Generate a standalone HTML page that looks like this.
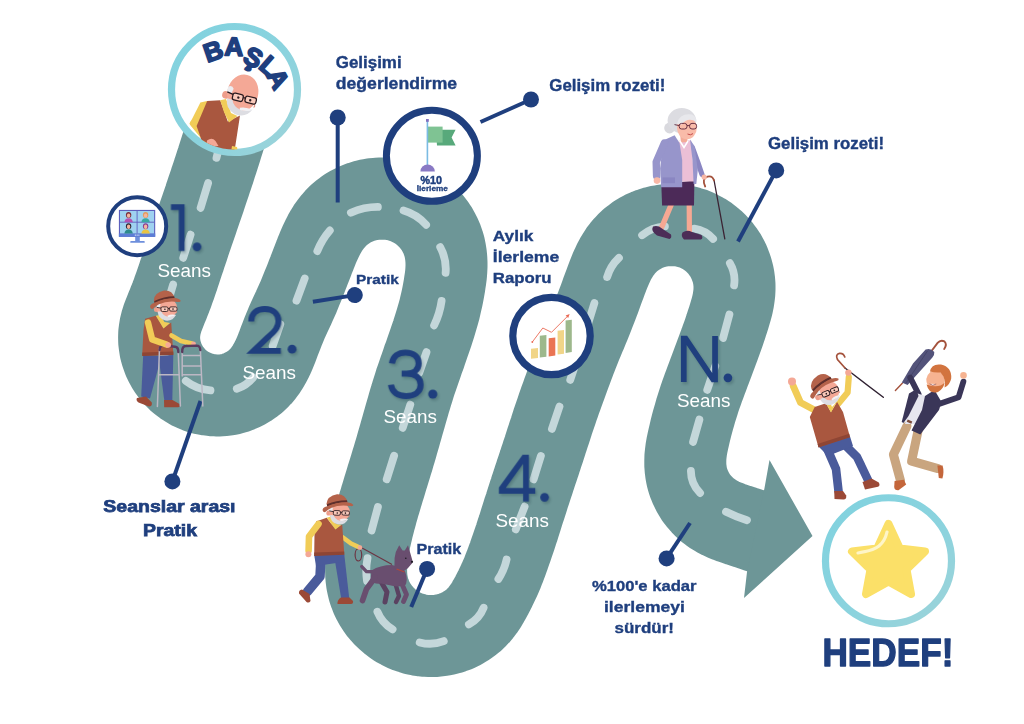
<!DOCTYPE html>
<html><head><meta charset="utf-8"><title>Yol Haritası</title>
<style>html,body{margin:0;padding:0;background:#fff}body{width:1024px;height:724px;overflow:hidden;font-family:"Liberation Sans",sans-serif}svg{display:block}</style>
</head><body>
<svg width="1024" height="724" viewBox="0 0 1024 724" font-family="'Liberation Sans', sans-serif">
<defs>
<linearGradient id="rg" x1="0" y1="0" x2="1" y2="1"><stop offset="0" stop-color="#80d2df"/><stop offset="0.55" stop-color="#8bd3de"/><stop offset="1" stop-color="#9dd3d9"/></linearGradient>
<clipPath id="c1"><circle cx="234.5" cy="89.5" r="60"/></clipPath>
<filter id="blur" x="-20%" y="-20%" width="140%" height="140%"><feGaussianBlur stdDeviation="1.2"/></filter>
</defs>
<rect width="1024" height="724" fill="#fff"/>
<path d="M229.0,122.0 L227.9,125.8 L226.8,129.7 L225.6,133.5 L224.5,137.3 L223.3,141.2 L222.1,145.0 L220.9,148.8 L219.7,152.6 L218.5,156.4 L217.3,160.2 L216.0,164.0 L214.8,167.8 L213.6,171.6 L212.3,175.4 L211.0,179.2 L209.8,183.0 L208.5,186.8 L207.2,190.6 L205.9,194.4 L204.7,198.2 L203.4,202.0 L202.1,205.8 L200.8,209.5 L199.5,213.3 L198.2,217.1 L196.9,220.9 L195.6,224.7 L194.3,228.5 L193.0,232.2 L191.7,236.0 L190.4,239.8 L189.1,243.6 L187.9,247.4 L186.6,251.2 L185.3,255.0 L184.1,258.8 L182.8,262.6 L181.5,266.4 L180.3,270.2 L179.0,274.0 L177.8,277.8 L176.5,281.6 L175.2,285.3 L173.8,289.1 L172.5,292.9 L171.1,296.6 L169.6,300.3 L168.2,304.0 L166.7,307.6 L165.2,311.3 L163.8,314.9 L162.4,318.6 L161.3,322.3 L160.3,326.1 L159.7,329.9 L159.2,333.7 L159.1,337.6 L159.2,341.5 L159.7,345.3 L160.3,349.2 L161.3,353.0 L162.5,356.7 L163.9,360.3 L165.6,363.8 L167.5,367.2 L169.6,370.5 L172.0,373.6 L174.5,376.6 L177.2,379.4 L180.2,382.0 L183.2,384.3 L186.5,386.5 L189.8,388.5 L193.3,390.2 L196.9,391.7 L200.6,393.0 L204.4,394.0 L208.2,394.7 L212.1,395.2 L216.0,395.4 L219.9,395.4 L223.8,395.1 L227.7,394.6 L231.5,393.8 L235.2,392.7 L238.9,391.4 L242.5,389.8 L246.0,388.0 L249.3,386.0 L252.5,383.8 L255.5,381.4 L258.4,378.7 L261.1,375.9 L263.6,372.9 L265.9,369.7 L268.0,366.4 L270.0,363.0 L271.8,359.5 L273.5,355.9 L275.1,352.2 L276.6,348.6 L278.0,344.8 L279.4,341.1 L280.8,337.4 L282.3,333.6 L283.7,329.9 L285.3,326.2 L286.8,322.6 L288.4,318.9 L290.1,315.3 L291.8,311.6 L293.5,308.0 L295.1,304.4 L296.8,300.7 L298.4,297.1 L299.9,293.4 L301.4,289.7 L302.9,286.0 L304.4,282.3 L305.9,278.6 L307.3,274.8 L308.8,271.1 L310.2,267.4 L311.7,263.6 L313.1,259.9 L314.6,256.2 L316.0,252.5 L317.5,248.8 L319.1,245.1 L320.7,241.5 L322.4,237.9 L324.2,234.4 L326.2,230.9 L328.3,227.6 L330.5,224.4 L333.0,221.3 L335.6,218.3 L338.3,215.6 L341.3,213.0 L344.4,210.6 L347.6,208.4 L351.0,206.4 L354.5,204.6 L358.1,203.1 L361.8,201.7 L365.5,200.6 L369.3,199.7 L373.2,199.1 L377.1,198.7 L381.0,198.5 L384.9,198.5 L388.8,198.8 L392.7,199.4 L396.6,200.1 L400.3,201.1 L404.1,202.4 L407.7,203.8 L411.2,205.5 L414.7,207.4 L418.0,209.5 L421.2,211.7 L424.2,214.2 L427.1,216.9 L429.8,219.7 L432.4,222.7 L434.7,225.8 L436.9,229.1 L438.8,232.5 L440.6,236.0 L442.1,239.6 L443.4,243.3 L444.5,247.0 L445.3,250.9 L445.9,254.8 L446.3,258.7 L446.5,262.6 L446.5,266.5 L446.3,270.5 L446.0,274.5 L445.5,278.4 L444.9,282.3 L444.3,286.3 L443.6,290.2 L442.9,294.1 L442.1,298.0 L441.2,301.9 L440.3,305.8 L439.4,309.7 L438.3,313.6 L437.2,317.4 L436.1,321.2 L434.9,325.1 L433.7,328.9 L432.5,332.7 L431.2,336.5 L429.9,340.3 L428.6,344.0 L427.3,347.8 L426.0,351.6 L424.7,355.4 L423.3,359.1 L422.0,362.9 L420.7,366.7 L419.4,370.4 L418.1,374.2 L416.8,378.0 L415.5,381.7 L414.3,385.5 L413.1,389.3 L411.9,393.1 L410.8,396.9 L409.6,400.7 L408.5,404.5 L407.4,408.3 L406.3,412.2 L405.2,416.0 L404.1,419.9 L403.0,423.7 L401.9,427.6 L400.8,431.4 L399.7,435.3 L398.6,439.1 L397.5,442.9 L396.4,446.8 L395.3,450.6 L394.1,454.5 L393.0,458.3 L391.8,462.1 L390.7,465.9 L389.5,469.8 L388.3,473.6 L387.1,477.4 L386.0,481.2 L384.8,485.1 L383.6,488.9 L382.5,492.7 L381.3,496.5 L380.2,500.4 L379.0,504.2 L377.9,508.1 L376.8,511.9 L375.8,515.8 L374.7,519.6 L373.7,523.5 L372.7,527.4 L371.8,531.2 L370.9,535.1 L370.0,539.0 L369.2,542.9 L368.5,546.9 L367.8,550.8 L367.2,554.7 L366.7,558.7 L366.4,562.6 L366.1,566.6 L366.1,570.5 L366.2,574.5 L366.5,578.4 L367.0,582.3 L367.8,586.1 L368.7,589.9 L370.0,593.6 L371.4,597.3 L373.1,600.8 L375.0,604.2 L377.1,607.5 L379.4,610.7 L381.9,613.7 L384.5,616.6 L387.4,619.3 L390.3,621.8 L393.5,624.2 L396.7,626.4 L400.1,628.3 L403.6,630.1 L407.2,631.6 L410.9,632.9 L414.7,634.0 L418.5,634.9 L422.4,635.5 L426.3,635.9 L430.2,636.1 L434.1,636.0 L438.0,635.7 L441.9,635.2 L445.7,634.4 L449.5,633.4 L453.2,632.2 L456.9,630.8 L460.4,629.1 L463.8,627.2 L467.2,625.1 L470.3,622.9 L473.4,620.4 L476.2,617.7 L478.9,614.9 L481.4,611.9 L483.8,608.7 L486.0,605.4 L488.0,602.1 L489.9,598.7 L491.8,595.2 L493.6,591.7 L495.4,588.2 L497.1,584.7 L498.8,581.1 L500.4,577.5 L502.0,573.9 L503.4,570.2 L504.9,566.5 L506.3,562.8 L507.6,559.1 L509.0,555.3 L510.3,551.5 L511.6,547.8 L512.9,544.0 L514.2,540.2 L515.5,536.4 L516.7,532.6 L518.0,528.8 L519.2,525.0 L520.4,521.2 L521.6,517.4 L522.8,513.5 L524.0,509.7 L525.3,505.9 L526.5,502.1 L527.7,498.3 L528.9,494.5 L530.2,490.7 L531.4,486.9 L532.7,483.1 L533.9,479.3 L535.2,475.5 L536.4,471.7 L537.7,467.9 L539.0,464.1 L540.2,460.3 L541.5,456.5 L542.7,452.7 L544.0,448.9 L545.2,445.1 L546.4,441.3 L547.7,437.5 L548.9,433.7 L550.2,429.9 L551.4,426.1 L552.6,422.3 L553.9,418.5 L555.2,414.7 L556.5,410.9 L557.8,407.1 L559.1,403.4 L560.4,399.6 L561.8,395.8 L563.1,392.1 L564.5,388.3 L565.9,384.5 L567.2,380.8 L568.6,377.0 L570.0,373.3 L571.4,369.5 L572.8,365.8 L574.2,362.0 L575.6,358.3 L577.1,354.6 L578.5,350.9 L580.0,347.1 L581.5,343.4 L583.1,339.7 L584.6,336.1 L586.2,332.4 L587.7,328.7 L589.2,325.0 L590.7,321.3 L592.2,317.6 L593.7,313.8 L595.1,310.1 L596.6,306.4 L598.0,302.6 L599.4,298.9 L600.8,295.1 L602.1,291.4 L603.5,287.6 L604.9,283.9 L606.3,280.1 L607.7,276.4 L609.2,272.7 L610.7,269.0 L612.3,265.4 L614.0,261.8 L615.9,258.3 L617.9,255.0 L620.0,251.7 L622.4,248.6 L624.9,245.6 L627.6,242.8 L630.5,240.1 L633.5,237.7 L636.7,235.4 L640.1,233.4 L643.5,231.5 L647.1,229.9 L650.7,228.5 L654.5,227.3 L658.3,226.4 L662.1,225.7 L666.0,225.2 L669.9,225.0 L673.8,225.0 L677.7,225.3 L681.6,225.8 L685.4,226.5 L689.2,227.5 L693.0,228.7 L696.6,230.2 L700.1,231.9 L703.6,233.7 L706.9,235.8 L710.0,238.1 L713.1,240.6 L715.9,243.3 L718.6,246.1 L721.1,249.1 L723.4,252.3 L725.6,255.6 L727.5,259.0 L729.2,262.5 L730.6,266.2 L731.9,269.9 L732.9,273.6 L733.7,277.5 L734.2,281.3 L734.5,285.2 L734.5,289.1 L734.3,293.1 L733.8,297.0 L733.2,300.9 L732.4,304.7 L731.4,308.6 L730.3,312.4 L729.2,316.2 L728.0,320.0 L726.7,323.8 L725.5,327.6 L724.2,331.4 L722.9,335.2 L721.5,338.9 L720.2,342.7 L718.8,346.5 L717.4,350.2 L716.0,354.0 L714.6,357.7 L713.2,361.5 L711.8,365.2 L710.4,368.9 L709.0,372.7 L707.6,376.4 L706.2,380.2 L704.8,383.9 L703.4,387.7 L702.1,391.4 L700.7,395.2 L699.4,399.0 L698.2,402.8 L697.0,406.6 L695.8,410.4 L694.7,414.3 L693.6,418.1 L692.5,422.0 L691.5,425.8 L690.5,429.7 L689.6,433.6 L688.7,437.5 L687.8,441.4 L687.0,445.3 L686.3,449.2 L685.8,453.1 L685.4,457.0 L685.3,461.0 L685.3,464.9 L685.6,468.8 L686.1,472.7 L686.8,476.6 L687.8,480.4 L689.1,484.1 L690.6,487.7 L692.3,491.2 L694.2,494.6 L696.3,497.9 L698.7,501.0 L701.3,504.0 L704.0,506.8 L706.9,509.5 L710.0,511.9 L713.2,514.1 L716.6,516.2 L720.0,518.0 L723.6,519.7 L727.3,521.2 L731.0,522.6 L734.7,523.9 L738.5,525.2 L742.3,526.4 L746.1,527.7 L749.9,528.9 L753.7,530.2 L757.4,531.5 L761.2,532.9 L764.9,534.2 L768.6,535.6 L772.3,536.9 L774.2,537.6" fill="none" stroke="#6d9697" stroke-width="82" stroke-linejoin="round"/>
<polygon points="769.5,460.0 812.5,536.0 744.0,598.0 747.0,572.0 764.5,488.0" fill="#6d9697"/>
<path d="M221.5,137.1 L216.5,157.9 M208.1,183.1 L200.6,207.9 M190.6,234.6 L183.2,257.9 M173.1,284.6 L166.1,307.9 M161.0,337.1 Q159.9,349.4 166.5,359.9 M185.8,380.8 Q196.7,389.3 210.5,390.4 M236.8,388.8 Q246.7,385.6 253.2,377.5 M272.7,345.9 L280.3,324.1 M296.5,300.7 L304.7,278.5 M317.3,251.1 Q321.8,239.8 329.8,230.5 M350.9,212.7 Q363.8,206.9 377.9,206.9 M403.5,210.5 Q416.9,214.3 426.1,224.8 M440.2,247.2 Q446.8,259.2 445.6,272.8 M441.6,300.9 Q439.8,313.7 434.1,325.4 M426.5,352.1 L419.2,372.9 M410.3,404.6 L402.7,427.9 M394.1,455.8 L386.7,479.2 M377.9,507.1 L371.6,530.4 M367.5,558.2 Q365.3,569.5 367.0,580.8 M377.4,611.7 Q382.0,623.1 392.6,629.3 M419.7,642.4 Q432.0,645.7 443.8,641.1 M468.9,624.3 Q479.3,618.6 483.6,607.7 M498.4,579.0 Q504.3,570.0 506.6,559.5 M515.8,529.4 L524.6,506.6 M533.6,479.4 L540.9,455.9 M551.9,428.9 L559.5,406.6 M570.2,379.9 L577.8,357.1 M587.1,326.9 L594.4,303.1 M607.1,277.1 Q610.4,265.9 618.9,257.9 M642.1,235.2 Q652.1,227.0 664.9,226.3 M694.4,228.6 Q705.7,230.3 713.1,238.9 M729.9,263.2 Q735.9,273.5 734.1,285.3 M729.4,314.6 L723.1,337.9 M715.3,366.1 L707.2,389.9 M699.4,419.6 L693.1,441.9 M690.9,471.0 Q690.9,483.9 700.1,493.0 M726.0,511.8 Q736.1,516.9 747.0,520.2" fill="none" stroke="#c4d7da" stroke-width="7.8" stroke-linecap="round"/>
<circle cx="234.5" cy="89.5" r="63" fill="#fff" stroke="url(#rg)" stroke-width="7.2"/>
<g clip-path="url(#c1)"><polygon points="200.4,102.4 207.0,100.9 210.0,112.0 197.0,127.0 189.5,124.0" fill="#f1cc57"/><polyline points="193.6,123.5 208.5,141.5" fill="none" stroke="#f1cc57" stroke-width="7.4" stroke-linecap="round" stroke-linejoin="round"/><polygon points="207.2,100.9 220.2,100.2 227.8,121.4 240.0,115.4 235.0,148.0 232.0,156.0 205.0,150.0 196.6,126.0" fill="#a9573f"/><polygon points="220.2,100.2 226.0,99.0 231.0,113.0 237.5,116.0 229.0,122.5 224.0,112.0" fill="#f1cc57"/><polygon points="232.0,146.0 237.0,147.0 238.0,152.0 231.0,152.0" fill="#f1cc57"/><path d="M207,140.5 q5,-3.5 8.5,0.5 l3,5 l-12,1 z" fill="#f4a896"/><g transform="translate(241.6,97.6) rotate(14.0) scale(1.500)"><circle cx="-10.6" cy="0.8" r="2.5" fill="#ee9d8b"/><ellipse cx="0" cy="-3.2" rx="10.3" ry="12.4" fill="#f4a896"/><path d="M-10.4,-5 Q-8,-7 -6.6,-4.4 L-7.2,-0.6 L-10.3,-1.2 Z" fill="#ececf0"/><path d="M-9.2,2.8 Q-9,10 -1.5,11.8 Q6,12.6 9,6 Q5.2,8.6 1,8 Q-4,7 -5.6,2.8 Z" fill="#dddde2"/><path d="M0.4,6.9 Q4.6,5 9.2,6.3 Q5.4,8.6 1,8.2 Z" fill="#f1f1f4"/><path d="M8.6,1.8 Q10.8,3.4 9.2,4.4" fill="none" stroke="#e08f7c" stroke-width="0.7"/><g fill="#f9c9ba" stroke="#2b1b20" stroke-width="0.85"><rect x="-6" y="-1.9" width="7" height="4.6" rx="1.4"/><rect x="2.6" y="-1.9" width="7.4" height="4.2" rx="1.3"/></g><path d="M1,-0.3 L2.6,-0.3 M-6,-0.7 L-10.2,-1.4" fill="none" stroke="#2b1b20" stroke-width="0.85"/><circle cx="-2.1" cy="0.5" r="0.8" fill="#2b1b20"/><circle cx="6.0" cy="0.3" r="0.8" fill="#2b1b20"/></g></g>
<g font-size="26" font-weight="bold" fill="#1f3f7e" text-anchor="middle" stroke="#1f3f7e" stroke-width="1.8" stroke-linejoin="round"><text transform="translate(216.2,59.6) rotate(-19.0)" x="0" y="0">B</text><text transform="translate(233.6,55.6) rotate(2.0)" x="0" y="0">A</text><text transform="translate(249.2,65.4) rotate(27.0)" x="0" y="0">Ş</text><text transform="translate(263.4,72.6) rotate(41.0)" x="0" y="0">L</text><text transform="translate(270.2,83.0) rotate(62.0)" x="0" y="0">A</text></g>
<g opacity="0.22" filter="url(#blur)"><g transform="translate(172.6,206.7) scale(0.4650)" fill="none" stroke="#16343c" stroke-width="12.4" stroke-linejoin="miter"><path d="M0,5.5 H23 V100"/><circle cx="56" cy="91" r="9.4" fill="#16343c" stroke="none"/></g><g transform="translate(250.4,308.6) scale(0.4700)" fill="none" stroke="#16343c" stroke-width="12.4" stroke-linejoin="miter"><path d="M5,32 C5,14 18,5.5 34,5.5 C51,5.5 63,15 63,31 C63,45 55,53 40,66 L10,94.5 H68"/><circle cx="92" cy="91" r="9.4" fill="#16343c" stroke="none"/></g><g transform="translate(390.6,352.0) scale(0.4860)" fill="none" stroke="#16343c" stroke-width="12.4" stroke-linejoin="miter"><path d="M6,28 C8,13 19,5.5 34,5.5 C50,5.5 61,14 61,28 C61,42 50,49 36,49 H26 M36,49 C53,49 65,57 65,72 C65,87 52,95 35,95 C18,95 6,87 4,72"/><circle cx="90" cy="91" r="9.4" fill="#16343c" stroke="none"/></g><g transform="translate(500.6,457.2) scale(0.4650)" fill="none" stroke="#16343c" stroke-width="12.4" stroke-linejoin="miter"><path d="M58,100 V5.5 H54 L6,72 V77 H78"/><circle cx="98" cy="91" r="9.4" fill="#16343c" stroke="none"/></g><g transform="translate(682.6,338.2) scale(0.4600)" fill="none" stroke="#16343c" stroke-width="12.4" stroke-linejoin="miter"><path d="M6,100 V5.5 H10 L70,94.5 H74 V0"/><circle cx="102" cy="91" r="9.4" fill="#16343c" stroke="none"/></g></g><g transform="translate(171.0,204.5) scale(0.4650)" fill="none" stroke="#1f3f7e" stroke-width="12.4" stroke-linejoin="miter"><path d="M0,5.5 H23 V100"/><circle cx="56" cy="91" r="9.4" fill="#1f3f7e" stroke="none"/></g><g transform="translate(248.8,306.4) scale(0.4700)" fill="none" stroke="#1f3f7e" stroke-width="12.4" stroke-linejoin="miter"><path d="M5,32 C5,14 18,5.5 34,5.5 C51,5.5 63,15 63,31 C63,45 55,53 40,66 L10,94.5 H68"/><circle cx="92" cy="91" r="9.4" fill="#1f3f7e" stroke="none"/></g><g transform="translate(389.0,349.8) scale(0.4860)" fill="none" stroke="#1f3f7e" stroke-width="12.4" stroke-linejoin="miter"><path d="M6,28 C8,13 19,5.5 34,5.5 C50,5.5 61,14 61,28 C61,42 50,49 36,49 H26 M36,49 C53,49 65,57 65,72 C65,87 52,95 35,95 C18,95 6,87 4,72"/><circle cx="90" cy="91" r="9.4" fill="#1f3f7e" stroke="none"/></g><g transform="translate(499.0,455.0) scale(0.4650)" fill="none" stroke="#1f3f7e" stroke-width="12.4" stroke-linejoin="miter"><path d="M58,100 V5.5 H54 L6,72 V77 H78"/><circle cx="98" cy="91" r="9.4" fill="#1f3f7e" stroke="none"/></g><g transform="translate(681.0,336.0) scale(0.4600)" fill="none" stroke="#1f3f7e" stroke-width="12.4" stroke-linejoin="miter"><path d="M6,100 V5.5 H10 L70,94.5 H74 V0"/><circle cx="102" cy="91" r="9.4" fill="#1f3f7e" stroke="none"/></g>
<text x="157.5" y="277.0" font-size="18.2" font-weight="normal" fill="#ffffff" text-anchor="start" textLength="53.5" lengthAdjust="spacingAndGlyphs">Seans</text><text x="242.5" y="378.8" font-size="18.2" font-weight="normal" fill="#ffffff" text-anchor="start" textLength="53.5" lengthAdjust="spacingAndGlyphs">Seans</text><text x="383.5" y="422.5" font-size="18.2" font-weight="normal" fill="#ffffff" text-anchor="start" textLength="53.5" lengthAdjust="spacingAndGlyphs">Seans</text><text x="495.5" y="527.0" font-size="18.2" font-weight="normal" fill="#ffffff" text-anchor="start" textLength="53.5" lengthAdjust="spacingAndGlyphs">Seans</text><text x="677.0" y="407.0" font-size="18.2" font-weight="normal" fill="#ffffff" text-anchor="start" textLength="53.5" lengthAdjust="spacingAndGlyphs">Seans</text>
<g stroke="#1f3f7e" stroke-width="4" fill="none"><line x1="337.7" y1="117.5" x2="337.7" y2="202.5"/><line x1="531.0" y1="99.5" x2="480.5" y2="122.0"/><line x1="776.2" y1="170.4" x2="738.0" y2="241.5"/><line x1="354.8" y1="295.1" x2="312.9" y2="301.8"/><line x1="172.4" y1="481.4" x2="200.5" y2="401.0"/><line x1="427.1" y1="568.9" x2="411.2" y2="607.0"/><line x1="666.6" y1="558.4" x2="690.0" y2="523.0"/></g><g fill="#1f3f7e"><circle cx="337.7" cy="117.5" r="8"/><circle cx="531.0" cy="99.5" r="8"/><circle cx="776.2" cy="170.4" r="8"/><circle cx="354.8" cy="295.1" r="8"/><circle cx="172.4" cy="481.4" r="8"/><circle cx="427.1" cy="568.9" r="8"/><circle cx="666.6" cy="558.4" r="8"/></g>
<circle cx="137.2" cy="226.2" r="29.00" fill="#fff" stroke="#1f3f7e" stroke-width="4.0"/>
<rect x="118.9" y="209.9" width="36.3" height="26.9" fill="#5d5fbd"/><rect x="118.9" y="233.4" width="36.3" height="3.4" fill="#5b7dd6"/><rect x="120" y="211" width="34.1" height="22.4" fill="#9fd2f0"/><path d="M137.1,211 V233.4 M120,222.2 H154.1" stroke="#5d5fbd" stroke-width="0.9"/><rect x="135.2" y="236.8" width="4.6" height="4.8" fill="#6e8fdc"/><rect x="130.2" y="241" width="14.6" height="1.8" rx="0.9" fill="#6e8fdc"/><g fill="#fff"><circle cx="135.3" cy="235.1" r="0.6" fill="#fff"/><circle cx="137.1" cy="235.1" r="0.6" fill="#fff"/><circle cx="138.9" cy="235.1" r="0.6" fill="#fff"/></g><ellipse cx="128.6" cy="215.0" rx="2.7" ry="3.0" fill="#7b2d3c"/><ellipse cx="128.6" cy="215.6" rx="1.7" ry="2.2" fill="#f3b59f"/><path d="M124.4,222.2 q0.4,-3.6 3.4,-4 l1.6,0 q3,0.4 3.4,4 z" fill="#b452b3"/><ellipse cx="145.6" cy="215.0" rx="2.7" ry="3.0" fill="#e79a5b"/><ellipse cx="145.6" cy="215.6" rx="1.7" ry="2.2" fill="#f3b59f"/><path d="M141.4,222.2 q0.4,-3.6 3.4,-4 l1.6,0 q3,0.4 3.4,4 z" fill="#3aa9a2"/><ellipse cx="128.6" cy="226.2" rx="2.7" ry="3.0" fill="#2b2433"/><ellipse cx="128.6" cy="226.8" rx="1.7" ry="2.2" fill="#f3b59f"/><path d="M124.4,233.4 q0.4,-3.6 3.4,-4 l1.6,0 q3,0.4 3.4,4 z" fill="#2d8a8c"/><ellipse cx="145.6" cy="226.2" rx="2.7" ry="3.0" fill="#8b3b8e"/><ellipse cx="145.6" cy="226.8" rx="1.7" ry="2.2" fill="#f3b59f"/><path d="M141.4,233.4 q0.4,-3.6 3.4,-4 l1.6,0 q3,0.4 3.4,4 z" fill="#e9c343"/>
<circle cx="431.9" cy="155.8" r="45.50" fill="#fff" stroke="#1f3f7e" stroke-width="7.0"/>
<path d="M435.8,129.8 L455.6,129.8 L451.6,137.6 L455.6,145.4 L437,145.4 Z" fill="#58a97b"/><rect x="428" y="126.6" width="14.6" height="16" fill="#7fc393"/><rect x="426.6" y="121" width="1.6" height="44.5" fill="#7bbbe3"/><rect x="426" y="119" width="2.8" height="2.8" fill="#8271c0"/><path d="M420.4,171.4 A7.2,7 0 0 1 434.8,171.4 Z" fill="#8979c4"/><text x="431.2" y="183.6" font-size="11.8" font-weight="bold" fill="#1f3f7e" text-anchor="middle" textLength="21.5" lengthAdjust="spacingAndGlyphs" stroke="#1f3f7e" stroke-width="0.5">%10</text><text x="432.3" y="191.2" font-size="7.6" font-weight="bold" fill="#1f3f7e" text-anchor="middle" textLength="31" lengthAdjust="spacingAndGlyphs" stroke="#1f3f7e" stroke-width="0.3">İlerleme</text>
<circle cx="551.5" cy="336.0" r="38.70" fill="#fff" stroke="#1f3f7e" stroke-width="7.2"/>
<polygon points="531.0,348.8 538.0,348.0 538.0,357.9 531.0,358.8" fill="#f1d588"/><polygon points="539.8,335.8 546.4,335.0 546.4,356.7 539.8,357.6" fill="#9db88c"/><polygon points="548.7,338.2 555.3,337.4 555.3,355.5 548.7,356.4" fill="#ea7453"/><polygon points="557.6,330.8 564.0,330.0 564.0,353.7 557.6,354.6" fill="#f1d588"/><polygon points="565.6,320.6 571.8,319.8 571.8,352.0 565.6,352.9" fill="#9db88c"/><polyline points="532.3,342 542.8,328 551.5,332.3 568,315.8" fill="none" stroke="#ea6a55" stroke-width="0.9"/><polygon points="569.6,314 565.6,315.4 568.2,318" fill="#ea6a55"/><circle cx="532.3" cy="342.0" r="0.9" fill="#ea6a55"/>
<polygon points="143.2,355.0 161.5,356.0 150.0,398.5 141.2,396.5" fill="#4a5b9b"/><polygon points="158.5,356.0 173.3,355.0 172.3,400.5 164.3,400.5" fill="#4a5b9b"/><path d="M137,398 L146,396.5 L151.8,402.5 Q152.5,406.5 149,406.5 L138.5,402.5 Q135.5,400 137,398 Z" fill="#9b4936"/><path d="M164,400 L172.5,400 L179.5,404 Q180.5,407.2 178,407.2 L164.2,407.2 Z" fill="#9b4936"/><polygon points="145.1,318.7 155.8,315.8 163.5,328.3 171.2,322.5 173.4,354.6 142.2,355.6 143.5,330.0" fill="#a9573f"/><polygon points="142.3,352.6 173.3,351.6 173.4,355.0 142.2,356.0" fill="#8e4534"/><polygon points="155.8,315.8 160.0,315.0 164.5,322.0 170.0,323.0 163.5,328.6" fill="#f1cc57"/><polyline points="171.5,335.5 181.0,341.0 192.0,343.6" fill="none" stroke="#f1cc57" stroke-width="4.6" stroke-linecap="round" stroke-linejoin="round"/><circle cx="193.5" cy="343.8" r="2.4" fill="#f4a896"/><g fill="none" stroke="#bcb7c4" stroke-width="1.5" stroke-linecap="round"><path d="M159.5,348 L157.4,406.5 M178.2,351 L180.4,406 M182.2,351 V376 M200.3,348 L202.8,406 M159.3,374.7 H179 M182.2,355.4 H200.4 M182.2,366 H200.9 M182.2,374.7 H201.3"/></g><g fill="none" stroke="#5b3a5e" stroke-width="2.4" stroke-linecap="round"><path d="M159.6,350 Q159.8,345 164,345.5 L175,346.8 Q178.4,347.2 178.3,352"/><path d="M182.2,352 Q182,346 186,346 L196.5,345.6 Q200.2,345.6 200.3,350"/></g><polyline points="148.0,322.5 152.2,339.5 166.5,344.6" fill="none" stroke="#f1cc57" stroke-width="6.4" stroke-linecap="round" stroke-linejoin="round"/><circle cx="168.2" cy="345.0" r="2.8" fill="#f4a896"/><g transform="translate(167.0,308.8) rotate(0.0) scale(1.000)"><circle cx="-10.6" cy="0.8" r="2.5" fill="#ee9d8b"/><ellipse cx="0" cy="-0.6" rx="10.4" ry="10" fill="#f4a896"/><path d="M-10.4,-5 Q-8,-7 -6.6,-4.4 L-7.2,-0.6 L-10.3,-1.2 Z" fill="#ececf0"/><path d="M-9.2,2.8 Q-9,10 -1.5,11.8 Q6,12.6 9,6 Q5.2,8.6 1,8 Q-4,7 -5.6,2.8 Z" fill="#dddde2"/><path d="M0.4,6.9 Q4.6,5 9.2,6.3 Q5.4,8.6 1,8.2 Z" fill="#f1f1f4"/><path d="M8.6,1.8 Q10.8,3.4 9.2,4.4" fill="none" stroke="#e08f7c" stroke-width="0.7"/><g fill="#f9c9ba" stroke="#2b1b20" stroke-width="0.85"><rect x="-6" y="-1.9" width="7" height="4.6" rx="1.4"/><rect x="2.6" y="-1.9" width="7.4" height="4.2" rx="1.3"/></g><path d="M1,-0.3 L2.6,-0.3 M-6,-0.7 L-10.2,-1.4" fill="none" stroke="#2b1b20" stroke-width="0.85"/><circle cx="-2.1" cy="0.5" r="0.8" fill="#2b1b20"/><circle cx="6.0" cy="0.3" r="0.8" fill="#2b1b20"/><path d="M-13.2,-8.4 Q-12.8,-16 -3,-18.2 Q5.4,-18.8 7.6,-10.8 L6.8,-8.6 Q-3,-9.4 -12,-5.2 Z" fill="#b4624a"/><path d="M-12.8,-7.8 Q-3,-12.4 7.2,-12.6 L7.6,-10.6 Q-3,-10.4 -12.4,-5.6 Z" fill="#5e2f2c"/><path d="M-16.8,-1.6 Q-17.6,-4.2 -12.4,-6 Q-3,-10.4 7.4,-10.7 Q12.6,-10.2 13.7,-8 Q13.4,-6.4 11,-6.9 Q0,-8.5 -8,-4.5 Q-12.4,-2 -14.4,0.1 Q-16.4,0.3 -16.8,-1.6 Z" fill="#b4624a"/></g>
<polyline points="380.0,580.0 387.0,592.0 385.0,602.0" fill="none" stroke="#5a4261" stroke-width="5.0" stroke-linecap="round" stroke-linejoin="round"/><polyline points="395.5,584.0 399.0,596.0 396.0,602.0" fill="none" stroke="#5a4261" stroke-width="4.4" stroke-linecap="round" stroke-linejoin="round"/><polyline points="361.8,566.6 366.5,571.6 375.0,571.8" fill="none" stroke="#694e6f" stroke-width="3.4" stroke-linecap="round" stroke-linejoin="round"/><path d="M371.5,570.5 Q380,565 392,565 L403,568 Q408.5,576 406,584.5 Q399,588 391,585.5 L381,583.5 Q373.5,584.5 370.5,580 Z" fill="#694e6f"/><polyline points="375.0,577.5 366.5,589.0 362.5,600.5" fill="none" stroke="#694e6f" stroke-width="5.6" stroke-linecap="round" stroke-linejoin="round"/><polyline points="401.5,583.0 406.5,594.5 403.5,601.5" fill="none" stroke="#694e6f" stroke-width="4.8" stroke-linecap="round" stroke-linejoin="round"/><path d="M394.6,558 L395.8,552 L399.2,545.2 L402.6,550.6 L404.8,550.4 L408,545.2 L410.2,552.8 L412.4,560.6 Q413,563.4 411,564.4 L407.6,568.6 L402,572 L394.4,568.5 Z" fill="#694e6f"/><circle cx="405.8" cy="558.3" r="0.8" fill="#1d1a22"/><circle cx="412.0" cy="561.8" r="1.1" fill="#1d1a22"/><path d="M396.5,569 L404.5,572" stroke="#b0483c" stroke-width="1.3"/><ellipse cx="358.4" cy="554.8" rx="3.3" ry="6.2" fill="none" stroke="#6d3443" stroke-width="1.2"/><path d="M361.2,547.6 L392,564.4" stroke="#6d3443" stroke-width="1.1"/><polyline points="321.0,558.0 320.0,576.5 307.5,591.5" fill="none" stroke="#4a5b9b" stroke-width="9.5" stroke-linecap="round" stroke-linejoin="round" stroke-linecap="butt"/><polygon points="334.0,555.0 344.3,554.5 349.2,598.0 341.2,598.5" fill="#4a5b9b"/><polygon points="314.2,555.0 344.2,554.4 343.0,562.0 316.0,566.0" fill="#4a5b9b"/><path d="M302,589.5 L309.5,594 L310.5,601 Q309,603.5 306.5,602 L299,593.5 Q298.5,590 302,589.5 Z" fill="#9b4936"/><path d="M341,597.5 L349.5,597.5 L353,601 Q353.5,604 351,604 L337.5,604 Q337,600 341,597.5 Z" fill="#9b4936"/><polyline points="343.0,537.5 351.0,543.5 358.5,547.0" fill="none" stroke="#f1cc57" stroke-width="4.6" stroke-linecap="round" stroke-linejoin="round"/><circle cx="360.0" cy="547.6" r="2.3" fill="#f4a896"/><polygon points="316.1,521.6 326.7,517.7 335.4,529.3 342.2,524.5 344.3,554.3 314.2,555.6 314.5,534.0" fill="#a9573f"/><polygon points="314.2,552.6 344.2,551.4 344.3,554.8 314.2,556.0" fill="#8e4534"/><polygon points="326.7,517.7 331.0,516.5 336.0,524.0 341.5,524.8 335.4,529.6" fill="#f1cc57"/><polyline points="318.5,524.0 309.0,536.5 308.6,550.5" fill="none" stroke="#f1cc57" stroke-width="6.6" stroke-linecap="round" stroke-linejoin="round"/><circle cx="308.4" cy="554.3" r="3.0" fill="#f4a896"/><g transform="translate(339.4,512.6) rotate(2.0) scale(1.000)"><circle cx="-10.6" cy="0.8" r="2.5" fill="#ee9d8b"/><ellipse cx="0" cy="-0.6" rx="10.4" ry="10" fill="#f4a896"/><path d="M-10.4,-5 Q-8,-7 -6.6,-4.4 L-7.2,-0.6 L-10.3,-1.2 Z" fill="#ececf0"/><path d="M-9.2,2.8 Q-9,10 -1.5,11.8 Q6,12.6 9,6 Q5.2,8.6 1,8 Q-4,7 -5.6,2.8 Z" fill="#dddde2"/><path d="M0.4,6.9 Q4.6,5 9.2,6.3 Q5.4,8.6 1,8.2 Z" fill="#f1f1f4"/><path d="M8.6,1.8 Q10.8,3.4 9.2,4.4" fill="none" stroke="#e08f7c" stroke-width="0.7"/><g fill="#f9c9ba" stroke="#2b1b20" stroke-width="0.85"><rect x="-6" y="-1.9" width="7" height="4.6" rx="1.4"/><rect x="2.6" y="-1.9" width="7.4" height="4.2" rx="1.3"/></g><path d="M1,-0.3 L2.6,-0.3 M-6,-0.7 L-10.2,-1.4" fill="none" stroke="#2b1b20" stroke-width="0.85"/><circle cx="-2.1" cy="0.5" r="0.8" fill="#2b1b20"/><circle cx="6.0" cy="0.3" r="0.8" fill="#2b1b20"/><path d="M-13.2,-8.4 Q-12.8,-16 -3,-18.2 Q5.4,-18.8 7.6,-10.8 L6.8,-8.6 Q-3,-9.4 -12,-5.2 Z" fill="#b4624a"/><path d="M-12.8,-7.8 Q-3,-12.4 7.2,-12.6 L7.6,-10.6 Q-3,-10.4 -12.4,-5.6 Z" fill="#5e2f2c"/><path d="M-16.8,-1.6 Q-17.6,-4.2 -12.4,-6 Q-3,-10.4 7.4,-10.7 Q12.6,-10.2 13.7,-8 Q13.4,-6.4 11,-6.9 Q0,-8.5 -8,-4.5 Q-12.4,-2 -14.4,0.1 Q-16.4,0.3 -16.8,-1.6 Z" fill="#b4624a"/></g>
<path d="M714,180 L724.8,238.9" stroke="#3b2333" stroke-width="1.3" stroke-linecap="round"/><path d="M705.2,186.5 Q701.5,178.5 707.5,176.6 Q712.5,175.4 714,180.4" fill="none" stroke="#a4523c" stroke-width="1.8" stroke-linecap="round"/><polyline points="671.5,204.0 661.6,227.5" fill="none" stroke="#f6a893" stroke-width="5.4" stroke-linecap="round" stroke-linejoin="round" stroke-linecap="butt"/><polyline points="689.2,204.0 689.4,231.5" fill="none" stroke="#f6a893" stroke-width="5.2" stroke-linecap="round" stroke-linejoin="round" stroke-linecap="butt"/><path d="M653,226.5 Q658,225 662,228.5 L671,234.5 Q672,238 669.5,239 L657,235.5 Q650.5,231 653,226.5 Z" fill="#4c2d57"/><path d="M682.5,232.5 Q687,229.5 692,232 L701.5,235 Q703.5,238.5 701,239.4 L684,239.4 Q680.5,236 682.5,232.5 Z" fill="#4c2d57"/><polygon points="661.3,184.0 694.4,180.4 694.0,205.6 662.1,205.6" fill="#4c2a58"/><polyline points="692.5,148.0 698.0,163.0 702.0,174.5" fill="none" stroke="#8a86c2" stroke-width="5.2" stroke-linecap="round" stroke-linejoin="round"/><circle cx="704.2" cy="177.0" r="2.6" fill="#f8b8a6"/><polygon points="678.7,140.4 691.2,140.4 694.3,181.6 681.8,181.6" fill="#ebbfd6"/><polygon points="690.0,139.5 694.5,146.0 697.8,170.0 696.3,184.0 693.6,184.0 692.5,160.0" fill="#9795cb"/><polygon points="663.2,140.4 674.6,135.2 679.5,143.0 682.2,160.0 682.2,187.3 661.1,187.3 660.1,168.4" fill="#9795cb"/><rect x="662.5" y="177.4" width="12.5" height="5.8" fill="#8a86c2"/><polyline points="664.4,143.0 656.2,162.0 656.6,176.0" fill="none" stroke="#9795cb" stroke-width="7.4" stroke-linecap="round" stroke-linejoin="round"/><circle cx="657.0" cy="180.6" r="3.3" fill="#f8b8a6"/><polygon points="680.0,134.0 688.0,136.0 687.0,142.0 681.0,142.5" fill="#f3ab98"/><path d="M679.5,140.5 L684,147.5 L688,141" fill="none" stroke="#fff" stroke-width="1.5"/><circle cx="669.6" cy="128.0" r="5.4" fill="#d9d9de"/><ellipse cx="681.8" cy="120.6" rx="14.2" ry="12.6" fill="#dcdce1"/><ellipse cx="686.9" cy="128.0" rx="9.9" ry="11.2" fill="#f9bba9"/><path d="M677,124 Q679,113 692,114.5 Q697,117 696.5,122 Q688,116.5 681.5,124.5 Z" fill="#e8e8ec"/><g fill="none" stroke="#5a2338" stroke-width="0.9"><rect x="679.2" y="123.4" width="7.8" height="5.6" rx="2.4"/><rect x="689.6" y="123.4" width="7" height="5.6" rx="2.4"/><path d="M687,125.6 H689.6 M679.2,125.6 L674.5,124.6"/></g><path d="M687.5,134 Q690.5,135.8 693,133.6" fill="none" stroke="#c44b4b" stroke-width="1"/>
<path d="M845,368 L883.3,397.3" stroke="#2e2030" stroke-width="1.4" stroke-linecap="round"/><path d="M845,368 L837.5,359.5 Q835,354.5 839.5,353.4 Q843.5,353 844.8,357" fill="none" stroke="#a4523c" stroke-width="1.7" stroke-linecap="round"/><polyline points="826.0,446.0 836.0,469.0 838.5,491.0" fill="none" stroke="#4a5b9b" stroke-width="8.6" stroke-linecap="round" stroke-linejoin="round" stroke-linecap="butt"/><polyline points="842.0,442.0 857.0,457.0 868.0,480.0" fill="none" stroke="#4a5b9b" stroke-width="8.6" stroke-linecap="round" stroke-linejoin="round" stroke-linecap="butt"/><polygon points="818.5,446.5 850.0,436.5 853.0,446.0 828.0,456.0" fill="#4a5b9b"/><path d="M834.2,491 L843,491 L846.2,495.5 Q846.8,499.4 843.5,499.4 L834.5,499 Z" fill="#9b4936"/><path d="M862.5,482 L871.5,478.6 L878.8,482.5 Q880.5,485.5 878,486.8 L865,489.5 Z" fill="#9b4936"/><polyline points="814.5,410.0 800.5,402.5 793.2,386.0" fill="none" stroke="#f1cc57" stroke-width="6.8" stroke-linecap="round" stroke-linejoin="round"/><circle cx="792.0" cy="381.4" r="4.0" fill="#f4a896"/><polyline points="838.5,403.5 847.6,392.5 848.8,377.0" fill="none" stroke="#f1cc57" stroke-width="6.2" stroke-linecap="round" stroke-linejoin="round"/><circle cx="848.4" cy="372.6" r="3.2" fill="#f4a896"/><polygon points="814.7,407.0 825.9,403.3 830.9,412.0 837.1,402.1 843.0,412.0 850.0,436.9 818.5,447.3 809.8,417.0" fill="#a9573f"/><polygon points="817.6,444.0 849.2,433.8 850.0,437.2 818.5,447.6" fill="#8e4534"/><polygon points="825.9,403.3 829.5,401.5 832.0,407.0 836.5,402.3 831.0,412.4" fill="#f1cc57"/><g transform="translate(828.2,392.4) rotate(-22.0) scale(1.080)"><circle cx="-10.6" cy="0.8" r="2.5" fill="#ee9d8b"/><ellipse cx="0" cy="-0.6" rx="10.4" ry="10" fill="#f4a896"/><path d="M-10.4,-5 Q-8,-7 -6.6,-4.4 L-7.2,-0.6 L-10.3,-1.2 Z" fill="#ececf0"/><path d="M-9.2,2.8 Q-9,10 -1.5,11.8 Q6,12.6 9,6 Q5.2,8.6 1,8 Q-4,7 -5.6,2.8 Z" fill="#dddde2"/><path d="M0.4,6.9 Q4.6,5 9.2,6.3 Q5.4,8.6 1,8.2 Z" fill="#f1f1f4"/><path d="M8.6,1.8 Q10.8,3.4 9.2,4.4" fill="none" stroke="#e08f7c" stroke-width="0.7"/><g fill="#f9c9ba" stroke="#2b1b20" stroke-width="0.85"><rect x="-6" y="-1.9" width="7" height="4.6" rx="1.4"/><rect x="2.6" y="-1.9" width="7.4" height="4.2" rx="1.3"/></g><path d="M1,-0.3 L2.6,-0.3 M-6,-0.7 L-10.2,-1.4" fill="none" stroke="#2b1b20" stroke-width="0.85"/><circle cx="-2.1" cy="0.5" r="0.8" fill="#2b1b20"/><circle cx="6.0" cy="0.3" r="0.8" fill="#2b1b20"/><path d="M-13.2,-8.4 Q-12.8,-16 -3,-18.2 Q5.4,-18.8 7.6,-10.8 L6.8,-8.6 Q-3,-9.4 -12,-5.2 Z" fill="#b4624a"/><path d="M-12.8,-7.8 Q-3,-12.4 7.2,-12.6 L7.6,-10.6 Q-3,-10.4 -12.4,-5.6 Z" fill="#5e2f2c"/><path d="M-16.8,-1.6 Q-17.6,-4.2 -12.4,-6 Q-3,-10.4 7.4,-10.7 Q12.6,-10.2 13.7,-8 Q13.4,-6.4 11,-6.9 Q0,-8.5 -8,-4.5 Q-12.4,-2 -14.4,0.1 Q-16.4,0.3 -16.8,-1.6 Z" fill="#b4624a"/></g><path d="M902.3,383.2 L895.4,390.4" stroke="#a4523c" stroke-width="1.4" stroke-linecap="round"/><path d="M931.9,350.5 L937.6,342.9 Q940.6,339.4 944.4,341.4 Q947.4,344.4 944.2,349" fill="none" stroke="#a4523c" stroke-width="1.9" stroke-linecap="round"/><path d="M925.6,349.6 Q930.5,347.6 934.3,352 Q934.6,355.4 932.4,357.4 L907.6,384.9 L901.8,382.6 L913,363.6 Z" fill="#53537a"/><path d="M927.5,351 L906,383" stroke="#45456a" stroke-width="1"/><polyline points="907.0,426.0 893.4,454.5 900.6,481.0" fill="none" stroke="#c9a57f" stroke-width="9.0" stroke-linecap="round" stroke-linejoin="round" stroke-linecap="butt"/><polyline points="918.0,431.0 911.6,461.2 938.0,468.6" fill="none" stroke="#c9a57f" stroke-width="9.0" stroke-linecap="round" stroke-linejoin="round" stroke-linecap="butt"/><path d="M894.6,481 L903.8,479.8 L906.2,484.4 L898.5,490.3 Q894.5,490.6 894.2,487 Z" fill="#c4663b"/><path d="M937.4,465.6 L942.6,465.4 Q944.4,472 942.4,478.6 L938.8,478 Z" fill="#c4663b"/><polyline points="918.6,394.0 910.2,377.6" fill="none" stroke="#3a3658" stroke-width="5.8" stroke-linecap="round" stroke-linejoin="round"/><polyline points="939.0,404.0 958.6,397.2 963.4,381.6" fill="none" stroke="#3a3658" stroke-width="5.8" stroke-linecap="round" stroke-linejoin="round"/><circle cx="963.5" cy="375.4" r="3.3" fill="#f6b391"/><polygon points="913.0,392.0 932.0,398.0 924.0,424.0 905.0,424.0" fill="#e6e6ef"/><polygon points="925.0,396.0 934.5,390.0 941.5,402.1 939.0,410.0 920.3,434.6 911.5,430.6 922.0,410.0" fill="#3a3658"/><polygon points="909.0,393.5 916.5,389.0 918.5,396.0 908.5,416.0 903.5,423.0 901.7,422.0" fill="#3a3658"/><rect x="907" y="420.5" width="5" height="2.4" fill="#7a4b3a" transform="rotate(24 909.5 421.7)"/><path d="M929.5,387 L934.5,392 L938,388 Z" fill="#f6b391"/><ellipse cx="935.4" cy="380.4" rx="9.0" ry="9.8" fill="#f6b391" transform="rotate(-12.0 935.4 380.4)"/><path d="M926.6,384.5 Q929,394.5 938,392 Q943.5,389 944.6,382.5 Q938.5,389 926.6,384.5 Z" fill="#d2743f"/><path d="M930,371.6 Q931.4,363.4 941,364.6 Q952,367.2 951.2,378.5 Q950,385 944.6,387.4 Q946,378 940.4,372.4 Q935,372.8 930,371.6 Z" fill="#d2743f"/><path d="M929.6,383.8 Q932.6,386.6 936.2,384" fill="#fff" stroke="#7a2f2f" stroke-width="0.6"/>
<circle cx="888.5" cy="560.75" r="63" fill="#fff" stroke="url(#rg)" stroke-width="7.2"/>
<polygon points="888.5,524.0 899.8,548.5 925.0,551.5 906.5,569.5 911.0,594.0 888.5,581.5 866.0,594.0 870.5,569.5 852.0,551.5 877.2,548.5" fill="#fbe068" stroke="#fbe068" stroke-width="8" stroke-linejoin="round"/><path d="M858,553 Q872,551 879,546 Q885,541 887,532" fill="none" stroke="#fef5c8" stroke-width="3.2" stroke-linecap="round"/>
<text x="335.8" y="68.1" font-size="15.6" font-weight="bold" fill="#1f3f7e" text-anchor="start" textLength="65.8" lengthAdjust="spacingAndGlyphs" stroke="#1f3f7e" stroke-width="0.35">Gelişimi</text><text x="335.8" y="89.2" font-size="15.6" font-weight="bold" fill="#1f3f7e" text-anchor="start" textLength="121.3" lengthAdjust="spacingAndGlyphs" stroke="#1f3f7e" stroke-width="0.35">değerlendirme</text><text x="549.3" y="91.0" font-size="15.6" font-weight="bold" fill="#1f3f7e" text-anchor="start" textLength="116.0" lengthAdjust="spacingAndGlyphs" stroke="#1f3f7e" stroke-width="0.35">Gelişim rozeti!</text><text x="768.0" y="149.4" font-size="15.6" font-weight="bold" fill="#1f3f7e" text-anchor="start" textLength="116.0" lengthAdjust="spacingAndGlyphs" stroke="#1f3f7e" stroke-width="0.35">Gelişim rozeti!</text><text x="492.8" y="241.1" font-size="15.2" font-weight="bold" fill="#1f3f7e" text-anchor="start" textLength="40.6" lengthAdjust="spacingAndGlyphs" stroke="#1f3f7e" stroke-width="0.35">Aylık</text><text x="492.8" y="262.3" font-size="15.2" font-weight="bold" fill="#1f3f7e" text-anchor="start" textLength="66.5" lengthAdjust="spacingAndGlyphs" stroke="#1f3f7e" stroke-width="0.35">İlerleme</text><text x="492.8" y="283.4" font-size="15.2" font-weight="bold" fill="#1f3f7e" text-anchor="start" textLength="58.7" lengthAdjust="spacingAndGlyphs" stroke="#1f3f7e" stroke-width="0.35">Raporu</text><text x="356.0" y="283.8" font-size="13.5" font-weight="bold" fill="#1f3f7e" text-anchor="start" textLength="42.7" lengthAdjust="spacingAndGlyphs" stroke="#1f3f7e" stroke-width="0.35">Pratik</text><text x="416.5" y="553.6" font-size="14.5" font-weight="bold" fill="#1f3f7e" text-anchor="start" textLength="44.7" lengthAdjust="spacingAndGlyphs" stroke="#1f3f7e" stroke-width="0.35">Pratik</text><text x="103.3" y="512.3" font-size="17.0" font-weight="bold" fill="#1f3f7e" text-anchor="start" textLength="132.2" lengthAdjust="spacingAndGlyphs" stroke="#1f3f7e" stroke-width="0.75">Seanslar arası</text><text x="143.1" y="536.1" font-size="17.0" font-weight="bold" fill="#1f3f7e" text-anchor="start" textLength="53.9" lengthAdjust="spacingAndGlyphs" stroke="#1f3f7e" stroke-width="0.75">Pratik</text><text x="591.9" y="590.8" font-size="15.4" font-weight="bold" fill="#1f3f7e" text-anchor="start" textLength="104.7" lengthAdjust="spacingAndGlyphs" stroke="#1f3f7e" stroke-width="0.35">%100'e kadar</text><text x="604.0" y="611.9" font-size="15.4" font-weight="bold" fill="#1f3f7e" text-anchor="start" textLength="80.8" lengthAdjust="spacingAndGlyphs" stroke="#1f3f7e" stroke-width="0.35">ilerlemeyi</text><text x="614.5" y="633.0" font-size="15.4" font-weight="bold" fill="#1f3f7e" text-anchor="start" textLength="59.4" lengthAdjust="spacingAndGlyphs" stroke="#1f3f7e" stroke-width="0.35">sürdür!</text><text x="822.4" y="666.2" font-size="38.5" font-weight="bold" fill="#1f3f7e" text-anchor="start" textLength="131.0" lengthAdjust="spacingAndGlyphs" stroke="#1f3f7e" stroke-width="1.3" stroke-linejoin="round">HEDEF!</text>
</svg>
</body></html>
